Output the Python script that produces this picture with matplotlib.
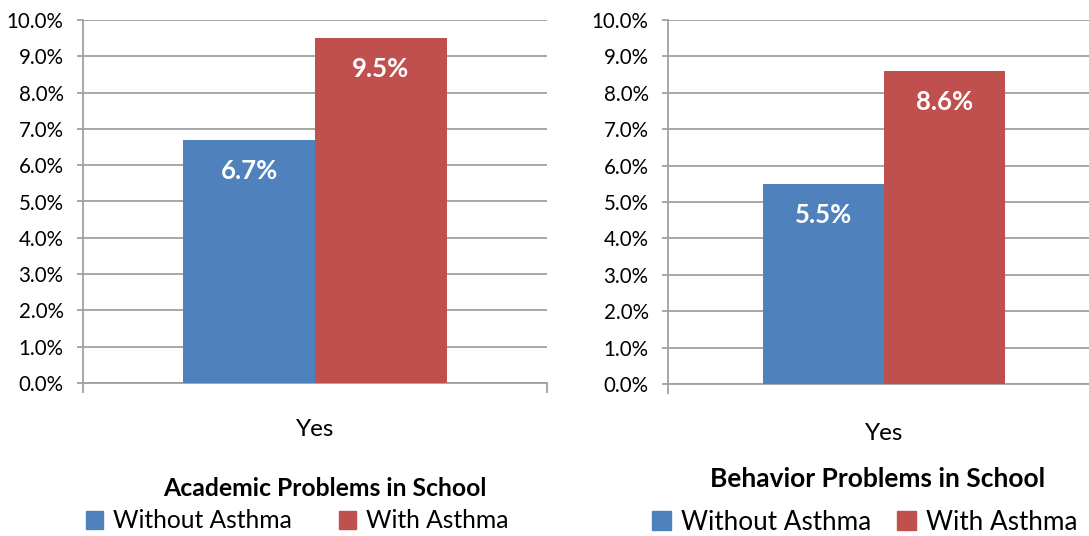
import numpy as np
import matplotlib.pyplot as plt
from matplotlib.patches import Patch

plt.rcParams['font.family'] = ['Lato', 'DejaVu Sans']

# data
category = ["Yes"]
series_names = ["Without Asthma", "With Asthma"]
academic = [6.7, 9.5]
behavior = [5.5, 8.6]
titles = ["Academic Problems in School", "Behavior Problems in School"]
yticks = np.arange(0, 10.1, 1.0)

colors = ["#4F81BD", "#C0504D"]
grid_col = "#a0a0a0"

W, H = 1089, 536
fig = plt.figure(figsize=(W / 100, H / 100), dpi=100)


def px_axes(x0, y_top, x1, y_bot):
    return fig.add_axes([x0 / W, 1 - y_bot / H, (x1 - x0) / W, (y_bot - y_top) / H])


def draw_panel(ax, values, bw, xpad):
    x = np.arange(len(category))
    for i, v in enumerate(values):
        bars = ax.bar(x + (i - 0.5) * bw, [v], width=bw, align="center",
                      color=colors[i], zorder=3)
        ax.bar_label(bars, labels=[f"{v:.1f}%"], padding=-31, color="white",
                     fontsize=18.5, fontweight="bold")
    ax.set_xlim(-0.5, 0.5)
    ax.set_ylim(0, 10)
    ax.set_yticks(yticks)
    ax.set_yticklabels([f"{t:.1f}%" for t in yticks])
    ax.yaxis.grid(True, color=grid_col, lw=1.3, zorder=0)
    ax.set_axisbelow(True)
    for s in ["top", "right"]:
        ax.spines[s].set_visible(False)
    ax.spines["left"].set_color(grid_col)
    ax.spines["left"].set_linewidth(1.3)
    ax.spines["bottom"].set_color(grid_col)
    ax.spines["bottom"].set_linewidth(1.3)
    ax.tick_params(axis="y", length=4, color=grid_col, width=1.3, pad=10,
                   labelsize=14.8)
    ax.set_xticks(x)
    ax.set_xticklabels(category)
    ax.tick_params(axis="x", length=0, pad=xpad, labelsize=17.5)
    ax.set_xticks([-0.5, 0.5], minor=True)
    ax.tick_params(axis="x", which="minor", length=7, color=grid_col, width=1.3)


ax1 = px_axes(83, 20, 547, 383)
draw_panel(ax1, academic, 0.284, 26)

ax2 = px_axes(668, 20, 1100, 384)
draw_panel(ax2, behavior, 0.28, 28)

fig.text(325 / W, 1 - 488 / H, titles[0], ha="center", va="center",
         fontsize=17.8, fontweight="bold")
fig.text(878 / W, 1 - 479 / H, titles[1], ha="center", va="center",
         fontsize=19, fontweight="bold")

handles = [Patch(color=c, label=n) for c, n in zip(colors, series_names)]
fig.legend(handles=handles, ncol=2, loc="center", frameon=False,
           bbox_to_anchor=(297 / W, 1 - 521 / H), fontsize=17.7,
           handlelength=0.7, handleheight=0.7, handletextpad=0.4,
           columnspacing=1.9, borderaxespad=0)
fig.legend(handles=handles, ncol=2, loc="center", frameon=False,
           bbox_to_anchor=(865 / W, 1 - 522 / H), fontsize=18.8,
           handlelength=0.7, handleheight=0.7, handletextpad=0.4,
           columnspacing=1.0, borderaxespad=0)

fig.savefig("out.png", dpi=100)
